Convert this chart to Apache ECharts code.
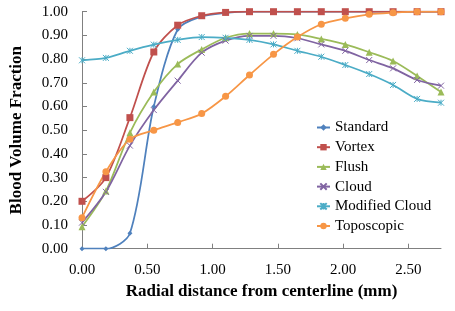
<!DOCTYPE html>
<html>
<head>
<meta charset="utf-8">
<script src="https://cdn.jsdelivr.net/npm/echarts@6/dist/echarts.min.js"></script>
<style>html,body{margin:0;padding:0;background:#fff;}#chart{width:455px;height:311px;}</style>
</head>
<body>
<div id="chart"></div>
<script>
var xs = [0, 0.183, 0.367, 0.55, 0.733, 0.917, 1.1, 1.283, 1.467, 1.65, 1.833, 2.017, 2.2, 2.383, 2.567, 2.75];
var standard = [0.00, 0.00, 0.065, 0.60, 0.925, 0.98, 0.995, 1.00, 1.00, 1.00, 1.00, 1.00, 1.00, 1.00, 1.00, 1.00];
var vortex = [0.20, 0.30, 0.553, 0.83, 0.943, 0.983, 0.997, 1.00, 1.00, 1.00, 1.00, 1.00, 1.00, 1.00, 1.00, 1.00];
var flush = [0.093, 0.243, 0.489, 0.661, 0.779, 0.841, 0.89, 0.908, 0.908, 0.904, 0.885, 0.862, 0.829, 0.792, 0.729, 0.661];
var cloud = [0.11, 0.24, 0.435, 0.585, 0.709, 0.827, 0.878, 0.898, 0.898, 0.888, 0.862, 0.835, 0.796, 0.761, 0.712, 0.688];
var modifiedCloud = [0.795, 0.805, 0.835, 0.861, 0.881, 0.893, 0.89, 0.881, 0.862, 0.835, 0.81, 0.775, 0.737, 0.691, 0.632, 0.616];
var toposcopic = [0.131, 0.325, 0.462, 0.50, 0.533, 0.57, 0.643, 0.733, 0.82, 0.893, 0.947, 0.972, 0.989, 0.996, 1.00, 1.00];
var seriesNames = ['Standard', 'Vortex', 'Flush', 'Cloud', 'Modified Cloud', 'Toposcopic'];
var xTicks = [0, 0.5, 1.0, 1.5, 2.0, 2.5];

var colors = ['#4F81BD', '#C0504D', '#9BBB59', '#8064A2', '#4BACC6', '#F79646'];
var symbols = ['diamond', 'rect', 'triangle', 'path://M0,0L10,10M10,0L0,10', 'path://M0,0L10,10M10,0L0,10M5,0L5,10', 'circle'];
var sizes = [5, 7, 7, 6, 6, 7];
var allData = [standard, vortex, flush, cloud, modifiedCloud, toposcopic];
var font = '"Liberation Serif","Times New Roman",serif';

function pairs(arr) { return arr.map(function (v, i) { return [xs[i], v]; }); }

var series = allData.map(function (d, i) {
  return {
    name: seriesNames[i],
    type: 'line',
    data: pairs(d),
    smooth: 0.3,
    symbol: symbols[i],
    symbolSize: sizes[i],
    showSymbol: true,
    lineStyle: { color: colors[i], width: 1.75 },
    itemStyle: { color: colors[i], borderColor: colors[i], borderWidth: (i === 3 || i === 4) ? 1 : 0 },
    emphasis: { disabled: true },
    animation: false
  };
});

var chart = echarts.init(document.getElementById('chart'), null, { renderer: 'canvas' });
chart.setOption({
  animation: false,
  grid: { left: 77, right: 14, top: 11.7, bottom: 62.3, containLabel: false },
  legend: {
    orient: 'vertical',
    left: 311,
    top: 115,
    itemWidth: 13,
    itemHeight: 8,
    itemGap: 4.7,
    data: seriesNames,
    textStyle: { fontFamily: font, fontSize: 15, color: '#000', lineHeight: 15 }
  },
  xAxis: {
    type: 'value',
    min: 0,
    max: 2.75,
    interval: 0.5,
    name: 'Radial distance from centerline (mm)',
    nameLocation: 'middle',
    nameGap: 34,
    nameTextStyle: { fontFamily: font, fontSize: 17, fontWeight: 'bold', color: '#000' },
    axisLine: { lineStyle: { color: '#808080', width: 1 } },
    axisTick: { inside: true, length: 5, lineStyle: { color: '#808080' }, customValues: xTicks },
    axisLabel: {
      fontFamily: font, fontSize: 15, color: '#000', margin: 14,
      customValues: xTicks,
      formatter: function (v) { return v.toFixed(2); }
    },
    splitLine: { show: false }
  },
  yAxis: {
    type: 'value',
    min: 0,
    max: 1,
    interval: 0.1,
    name: 'Blood Volume Fraction',
    nameLocation: 'middle',
    nameGap: 57,
    nameTextStyle: { fontFamily: font, fontSize: 17, fontWeight: 'bold', color: '#000' },
    axisLine: { show: true, lineStyle: { color: '#808080', width: 1 } },
    axisTick: { show: true, inside: true, length: 5, lineStyle: { color: '#808080' } },
    axisLabel: {
      fontFamily: font, fontSize: 15, color: '#000', margin: 14,
      formatter: function (v) { return v.toFixed(2); }
    },
    splitLine: { show: false }
  },
  series: series
});
</script>
</body>
</html>
